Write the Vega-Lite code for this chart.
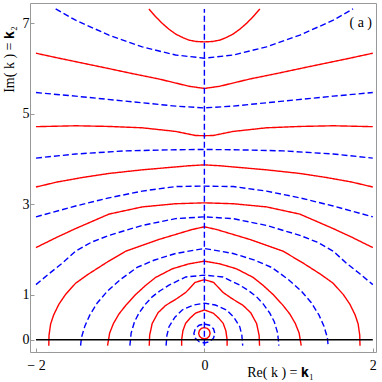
{
"$schema": "https://vega.github.io/schema/vega-lite/v6.json",
"width": 346, "height": 349,
"autosize": {"type": "none"},
"padding": {"left": 30, "top": 3, "right": 6, "bottom": 30},
"config": {
 "view": {"stroke": "#999999", "strokeWidth": 1},
 "axis": {"grid": false, "domain": false, "labelFont": "Liberation Serif", "labelFontSize": 14, "labelColor": "#000000", "titleFont": "Liberation Serif", "titleFontSize": 14, "titleFontWeight": "normal", "titleColor": "#000000", "tickColor": "#999999", "tickSize": -4}
},
"datasets": {
"contours": [
{"c":"R1","t":"r","x":-0.659,"y":7.32},{"c":"R1","t":"r","x":-0.58,"y":7.15},{"c":"R1","t":"r","x":-0.5,"y":7.0},{"c":"R1","t":"r","x":-0.42,"y":6.87},{"c":"R1","t":"r","x":-0.338,"y":6.76},{"c":"R1","t":"r","x":-0.25,"y":6.68},{"c":"R1","t":"r","x":-0.184,"y":6.63},{"c":"R1","t":"r","x":-0.1,"y":6.6},{"c":"R1","t":"r","x":0,"y":6.59},{"c":"R1","t":"r","x":0.1,"y":6.6},{"c":"R1","t":"r","x":0.184,"y":6.63},{"c":"R1","t":"r","x":0.25,"y":6.68},{"c":"R1","t":"r","x":0.338,"y":6.76},{"c":"R1","t":"r","x":0.42,"y":6.87},{"c":"R1","t":"r","x":0.5,"y":7.0},{"c":"R1","t":"r","x":0.58,"y":7.15},{"c":"R1","t":"r","x":0.659,"y":7.32},
{"c":"B1","t":"b","x":-1.766,"y":7.32},{"c":"B1","t":"b","x":-1.53,"y":7.07},{"c":"B1","t":"b","x":-1.134,"y":6.74},{"c":"B1","t":"b","x":-0.738,"y":6.48},{"c":"B1","t":"b","x":-0.342,"y":6.3},{"c":"B1","t":"b","x":0,"y":6.23},{"c":"B1","t":"b","x":0.342,"y":6.3},{"c":"B1","t":"b","x":0.738,"y":6.48},{"c":"B1","t":"b","x":1.134,"y":6.74},{"c":"B1","t":"b","x":1.53,"y":7.07},{"c":"B1","t":"b","x":1.766,"y":7.32},
{"c":"R2","t":"r","x":-2,"y":6.34},{"c":"R2","t":"r","x":-1.727,"y":6.23},{"c":"R2","t":"r","x":-1.134,"y":6.0},{"c":"R2","t":"r","x":-0.884,"y":5.9},{"c":"R2","t":"r","x":-0.54,"y":5.77},{"c":"R2","t":"r","x":-0.184,"y":5.61},{"c":"R2","t":"r","x":0,"y":5.56},{"c":"R2","t":"r","x":0.184,"y":5.61},{"c":"R2","t":"r","x":0.54,"y":5.77},{"c":"R2","t":"r","x":0.884,"y":5.9},{"c":"R2","t":"r","x":1.134,"y":6.0},{"c":"R2","t":"r","x":1.727,"y":6.23},{"c":"R2","t":"r","x":2,"y":6.34},
{"c":"B2","t":"b","x":-2,"y":5.47},{"c":"B2","t":"b","x":-1.53,"y":5.39},{"c":"B2","t":"b","x":-0.935,"y":5.28},{"c":"B2","t":"b","x":-0.342,"y":5.17},{"c":"B2","t":"b","x":0,"y":5.13},{"c":"B2","t":"b","x":0.342,"y":5.17},{"c":"B2","t":"b","x":0.935,"y":5.28},{"c":"B2","t":"b","x":1.53,"y":5.39},{"c":"B2","t":"b","x":2,"y":5.47},
{"c":"R3","t":"r","x":-2,"y":4.715},{"c":"R3","t":"r","x":-1.53,"y":4.735},{"c":"R3","t":"r","x":-1.134,"y":4.72},{"c":"R3","t":"r","x":-0.738,"y":4.69},{"c":"R3","t":"r","x":-0.342,"y":4.61},{"c":"R3","t":"r","x":-0.105,"y":4.52},{"c":"R3","t":"r","x":0,"y":4.515},{"c":"R3","t":"r","x":0.105,"y":4.52},{"c":"R3","t":"r","x":0.342,"y":4.61},{"c":"R3","t":"r","x":0.738,"y":4.69},{"c":"R3","t":"r","x":1.134,"y":4.72},{"c":"R3","t":"r","x":1.53,"y":4.735},{"c":"R3","t":"r","x":2,"y":4.715},
{"c":"B3","t":"b","x":-2,"y":4.02},{"c":"B3","t":"b","x":-1.53,"y":4.11},{"c":"B3","t":"b","x":-0.935,"y":4.18},{"c":"B3","t":"b","x":-0.342,"y":4.205},{"c":"B3","t":"b","x":0,"y":4.21},{"c":"B3","t":"b","x":0.342,"y":4.205},{"c":"B3","t":"b","x":0.935,"y":4.18},{"c":"B3","t":"b","x":1.53,"y":4.11},{"c":"B3","t":"b","x":2,"y":4.02},
{"c":"R4","t":"r","x":-2,"y":3.38},{"c":"R4","t":"r","x":-1.75,"y":3.49},{"c":"R4","t":"r","x":-1.45,"y":3.59},{"c":"R4","t":"r","x":-1.134,"y":3.68},{"c":"R4","t":"r","x":-0.738,"y":3.76},{"c":"R4","t":"r","x":-0.184,"y":3.85},{"c":"R4","t":"r","x":0,"y":3.87},{"c":"R4","t":"r","x":0.184,"y":3.85},{"c":"R4","t":"r","x":0.738,"y":3.76},{"c":"R4","t":"r","x":1.134,"y":3.68},{"c":"R4","t":"r","x":1.45,"y":3.59},{"c":"R4","t":"r","x":1.75,"y":3.49},{"c":"R4","t":"r","x":2,"y":3.38},
{"c":"B4","t":"b","x":-2,"y":2.72},{"c":"B4","t":"b","x":-1.53,"y":2.96},{"c":"B4","t":"b","x":-1.134,"y":3.14},{"c":"B4","t":"b","x":-0.738,"y":3.29},{"c":"B4","t":"b","x":-0.342,"y":3.39},{"c":"B4","t":"b","x":0,"y":3.4},{"c":"B4","t":"b","x":0.342,"y":3.39},{"c":"B4","t":"b","x":0.738,"y":3.29},{"c":"B4","t":"b","x":1.134,"y":3.14},{"c":"B4","t":"b","x":1.53,"y":2.96},{"c":"B4","t":"b","x":2,"y":2.72},
{"c":"R5","t":"r","x":-2,"y":2.04},{"c":"R5","t":"r","x":-1.75,"y":2.27},{"c":"R5","t":"r","x":-1.53,"y":2.46},{"c":"R5","t":"r","x":-1.134,"y":2.78},{"c":"R5","t":"r","x":-0.738,"y":2.94},{"c":"R5","t":"r","x":-0.342,"y":3.01},{"c":"R5","t":"r","x":0,"y":3.03},{"c":"R5","t":"r","x":0.342,"y":3.01},{"c":"R5","t":"r","x":0.738,"y":2.94},{"c":"R5","t":"r","x":1.134,"y":2.78},{"c":"R5","t":"r","x":1.53,"y":2.46},{"c":"R5","t":"r","x":1.75,"y":2.27},{"c":"R5","t":"r","x":2,"y":2.04},
{"c":"B5","t":"b","x":-2,"y":1.22},{"c":"B5","t":"b","x":-1.846,"y":1.46},{"c":"B5","t":"b","x":-1.69,"y":1.69},{"c":"B5","t":"b","x":-1.53,"y":1.96},{"c":"B5","t":"b","x":-1.34,"y":2.16},{"c":"B5","t":"b","x":-1.134,"y":2.31},{"c":"B5","t":"b","x":-0.738,"y":2.53},{"c":"B5","t":"b","x":-0.342,"y":2.68},{"c":"B5","t":"b","x":0,"y":2.72},{"c":"B5","t":"b","x":0.342,"y":2.68},{"c":"B5","t":"b","x":0.738,"y":2.53},{"c":"B5","t":"b","x":1.134,"y":2.31},{"c":"B5","t":"b","x":1.34,"y":2.16},{"c":"B5","t":"b","x":1.53,"y":1.96},{"c":"B5","t":"b","x":1.69,"y":1.69},{"c":"B5","t":"b","x":1.846,"y":1.46},{"c":"B5","t":"b","x":2,"y":1.22},
{"c":"R6","t":"r","x":-1.848,"y":-0.13},{"c":"R6","t":"r","x":-1.845,"y":0.1},{"c":"R6","t":"r","x":-1.826,"y":0.35},{"c":"R6","t":"r","x":-1.79,"y":0.55},{"c":"R6","t":"r","x":-1.727,"y":0.79},{"c":"R6","t":"r","x":-1.65,"y":1.0},{"c":"R6","t":"r","x":-1.53,"y":1.25},{"c":"R6","t":"r","x":-1.38,"y":1.45},{"c":"R6","t":"r","x":-1.17,"y":1.7},{"c":"R6","t":"r","x":-0.935,"y":1.96},{"c":"R6","t":"r","x":-0.54,"y":2.22},{"c":"R6","t":"r","x":-0.145,"y":2.44},{"c":"R6","t":"r","x":0,"y":2.5},{"c":"R6","t":"r","x":0.145,"y":2.44},{"c":"R6","t":"r","x":0.54,"y":2.22},{"c":"R6","t":"r","x":0.935,"y":1.96},{"c":"R6","t":"r","x":1.17,"y":1.7},{"c":"R6","t":"r","x":1.38,"y":1.45},{"c":"R6","t":"r","x":1.53,"y":1.25},{"c":"R6","t":"r","x":1.65,"y":1.0},{"c":"R6","t":"r","x":1.727,"y":0.79},{"c":"R6","t":"r","x":1.79,"y":0.55},{"c":"R6","t":"r","x":1.826,"y":0.35},{"c":"R6","t":"r","x":1.845,"y":0.1},{"c":"R6","t":"r","x":1.848,"y":-0.13},
{"c":"B6","t":"b","x":-1.47,"y":-0.13},{"c":"B6","t":"b","x":-1.46,"y":0.05},{"c":"B6","t":"b","x":-1.42,"y":0.3},{"c":"B6","t":"b","x":-1.36,"y":0.55},{"c":"B6","t":"b","x":-1.27,"y":0.82},{"c":"B6","t":"b","x":-1.15,"y":1.08},{"c":"B6","t":"b","x":-1.0,"y":1.33},{"c":"B6","t":"b","x":-0.8,"y":1.6},{"c":"B6","t":"b","x":-0.6,"y":1.76},{"c":"B6","t":"b","x":-0.342,"y":1.91},{"c":"B6","t":"b","x":0,"y":2.02},{"c":"B6","t":"b","x":0.342,"y":1.91},{"c":"B6","t":"b","x":0.6,"y":1.76},{"c":"B6","t":"b","x":0.8,"y":1.6},{"c":"B6","t":"b","x":1.0,"y":1.33},{"c":"B6","t":"b","x":1.15,"y":1.08},{"c":"B6","t":"b","x":1.27,"y":0.82},{"c":"B6","t":"b","x":1.36,"y":0.55},{"c":"B6","t":"b","x":1.42,"y":0.3},{"c":"B6","t":"b","x":1.46,"y":0.05},{"c":"B6","t":"b","x":1.47,"y":-0.13},
{"c":"R7","t":"r","x":-1.15,"y":-0.13},{"c":"R7","t":"r","x":-1.125,"y":0.15},{"c":"R7","t":"r","x":-1.08,"y":0.36},{"c":"R7","t":"r","x":-1.015,"y":0.57},{"c":"R7","t":"r","x":-0.93,"y":0.77},{"c":"R7","t":"r","x":-0.817,"y":1.0},{"c":"R7","t":"r","x":-0.7,"y":1.2},{"c":"R7","t":"r","x":-0.579,"y":1.38},{"c":"R7","t":"r","x":-0.382,"y":1.57},{"c":"R7","t":"r","x":-0.184,"y":1.68},{"c":"R7","t":"r","x":0,"y":1.74},{"c":"R7","t":"r","x":0.184,"y":1.68},{"c":"R7","t":"r","x":0.382,"y":1.57},{"c":"R7","t":"r","x":0.579,"y":1.38},{"c":"R7","t":"r","x":0.7,"y":1.2},{"c":"R7","t":"r","x":0.817,"y":1.0},{"c":"R7","t":"r","x":0.93,"y":0.77},{"c":"R7","t":"r","x":1.015,"y":0.57},{"c":"R7","t":"r","x":1.08,"y":0.36},{"c":"R7","t":"r","x":1.125,"y":0.15},{"c":"R7","t":"r","x":1.15,"y":-0.13},
{"c":"B7","t":"b","x":-0.885,"y":-0.13},{"c":"B7","t":"b","x":-0.87,"y":0.15},{"c":"B7","t":"b","x":-0.83,"y":0.4},{"c":"B7","t":"b","x":-0.777,"y":0.59},{"c":"B7","t":"b","x":-0.7,"y":0.79},{"c":"B7","t":"b","x":-0.62,"y":0.95},{"c":"B7","t":"b","x":-0.53,"y":1.08},{"c":"B7","t":"b","x":-0.42,"y":1.21},{"c":"B7","t":"b","x":-0.22,"y":1.39},{"c":"B7","t":"b","x":0,"y":1.43},{"c":"B7","t":"b","x":0.22,"y":1.39},{"c":"B7","t":"b","x":0.42,"y":1.21},{"c":"B7","t":"b","x":0.53,"y":1.08},{"c":"B7","t":"b","x":0.62,"y":0.95},{"c":"B7","t":"b","x":0.7,"y":0.79},{"c":"B7","t":"b","x":0.777,"y":0.59},{"c":"B7","t":"b","x":0.83,"y":0.4},{"c":"B7","t":"b","x":0.87,"y":0.15},{"c":"B7","t":"b","x":0.885,"y":-0.13},
{"c":"R8","t":"r","x":-0.655,"y":-0.13},{"c":"R8","t":"r","x":-0.65,"y":0.1},{"c":"R8","t":"r","x":-0.62,"y":0.36},{"c":"R8","t":"r","x":-0.55,"y":0.6},{"c":"R8","t":"r","x":-0.46,"y":0.76},{"c":"R8","t":"r","x":-0.32,"y":0.92},{"c":"R8","t":"r","x":-0.22,"y":1.05},{"c":"R8","t":"r","x":-0.11,"y":1.27},{"c":"R8","t":"r","x":0,"y":1.33},{"c":"R8","t":"r","x":0.11,"y":1.27},{"c":"R8","t":"r","x":0.22,"y":1.05},{"c":"R8","t":"r","x":0.32,"y":0.92},{"c":"R8","t":"r","x":0.46,"y":0.76},{"c":"R8","t":"r","x":0.55,"y":0.6},{"c":"R8","t":"r","x":0.62,"y":0.36},{"c":"R8","t":"r","x":0.65,"y":0.1},{"c":"R8","t":"r","x":0.655,"y":-0.13},
{"c":"B8","t":"b","x":-0.455,"y":-0.13},{"c":"B8","t":"b","x":-0.445,"y":0.1},{"c":"B8","t":"b","x":-0.42,"y":0.29},{"c":"B8","t":"b","x":-0.35,"y":0.5},{"c":"B8","t":"b","x":-0.263,"y":0.66},{"c":"B8","t":"b","x":-0.13,"y":0.77},{"c":"B8","t":"b","x":0,"y":0.81},{"c":"B8","t":"b","x":0.13,"y":0.77},{"c":"B8","t":"b","x":0.263,"y":0.66},{"c":"B8","t":"b","x":0.35,"y":0.5},{"c":"B8","t":"b","x":0.42,"y":0.29},{"c":"B8","t":"b","x":0.445,"y":0.1},{"c":"B8","t":"b","x":0.455,"y":-0.13},
{"c":"R9","t":"r","x":-0.27,"y":-0.13},{"c":"R9","t":"r","x":-0.27,"y":0.0},{"c":"R9","t":"r","x":-0.255,"y":0.2},{"c":"R9","t":"r","x":-0.223,"y":0.365},{"c":"R9","t":"r","x":-0.17,"y":0.48},{"c":"R9","t":"r","x":-0.105,"y":0.59},{"c":"R9","t":"r","x":0,"y":0.66},{"c":"R9","t":"r","x":0.105,"y":0.59},{"c":"R9","t":"r","x":0.17,"y":0.48},{"c":"R9","t":"r","x":0.223,"y":0.365},{"c":"R9","t":"r","x":0.255,"y":0.2},{"c":"R9","t":"r","x":0.27,"y":0.0},{"c":"R9","t":"r","x":0.27,"y":-0.13},
{"c":"B9","t":"b","x":0,"y":0.35},{"c":"B9","t":"b","x":0.0625,"y":0.322},{"c":"B9","t":"b","x":0.108,"y":0.245},{"c":"B9","t":"b","x":0.125,"y":0.14},{"c":"B9","t":"b","x":0.108,"y":0.035},{"c":"B9","t":"b","x":0.0625,"y":-0.042},{"c":"B9","t":"b","x":0,"y":-0.07},{"c":"B9","t":"b","x":-0.0625,"y":-0.042},{"c":"B9","t":"b","x":-0.108,"y":0.035},{"c":"B9","t":"b","x":-0.125,"y":0.14},{"c":"B9","t":"b","x":-0.108,"y":0.245},{"c":"B9","t":"b","x":-0.0625,"y":0.322},{"c":"B9","t":"b","x":0,"y":0.35},
{"c":"R10","t":"r","x":0,"y":0.27},{"c":"R10","t":"r","x":0.034,"y":0.253},{"c":"R10","t":"r","x":0.059,"y":0.2075},{"c":"R10","t":"r","x":0.068,"y":0.145},{"c":"R10","t":"r","x":0.059,"y":0.0825},{"c":"R10","t":"r","x":0.034,"y":0.037},{"c":"R10","t":"r","x":0,"y":0.02},{"c":"R10","t":"r","x":-0.034,"y":0.037},{"c":"R10","t":"r","x":-0.059,"y":0.0825},{"c":"R10","t":"r","x":-0.068,"y":0.145},{"c":"R10","t":"r","x":-0.059,"y":0.2075},{"c":"R10","t":"r","x":-0.034,"y":0.253},{"c":"R10","t":"r","x":0,"y":0.27},
{"c":"V","t":"b","x":0,"y":-0.13},{"c":"V","t":"b","x":0,"y":7.32}
]
},
"layer": [
 {
  "data": {"name": "contours"},
  "mark": {"type": "line", "strokeWidth": 1.4, "clip": true},
  "encoding": {
   "x": {"field": "x", "type": "quantitative", "scale": {"domain": [-2.071, 2.038], "nice": false, "zero": false},
         "axis": {"values": [-2, 0, 2], "format": "d", "labelPadding": 10, "labelExpr": "datum.value < 0 ? '− ' + format(-datum.value, 'd') : format(datum.value, 'd')", "title": "Re( k ) = 𝐤₁", "titleX": 250, "titleY": 20, "titleBaseline": "middle", "titleAlign": "center"}},
   "y": {"field": "y", "type": "quantitative", "scale": {"domain": [-0.27, 7.451], "nice": false, "zero": false},
         "axis": {"values": [0, 1, 3, 5, 7], "format": "d", "labelPadding": 5, "title": "Im( k ) = 𝐤₂", "titleX": -21, "titleY": 56, "titleAngle": 270, "titleBaseline": "middle", "titleAlign": "center"}},
   "detail": {"field": "c"},
   "color": {"field": "t", "type": "nominal", "scale": {"domain": ["r", "b"], "range": ["#ff0000", "#0000ff"]}, "legend": null},
   "strokeDash": {"field": "t", "type": "nominal", "scale": {"domain": ["r", "b"], "range": [[1, 0], [6, 3]]}, "legend": null},
   "order": {"value": null}
  }
 },
 {
  "data": {"values": [{"x": -2, "y": 0}, {"x": 2, "y": 0}]},
  "mark": {"type": "line", "color": "#000000", "strokeWidth": 1.4},
  "encoding": {"x": {"field": "x", "type": "quantitative"}, "y": {"field": "y", "type": "quantitative"}}
 },
 {
  "data": {"values": [{"x": 1.857, "y": 7.0, "s": "( a )"}]},
  "mark": {"type": "text", "font": "Liberation Serif", "fontSize": 14, "align": "center", "baseline": "middle", "color": "#000000"},
  "encoding": {"x": {"field": "x", "type": "quantitative"}, "y": {"field": "y", "type": "quantitative"}, "text": {"field": "s"}}
 }
]
}
